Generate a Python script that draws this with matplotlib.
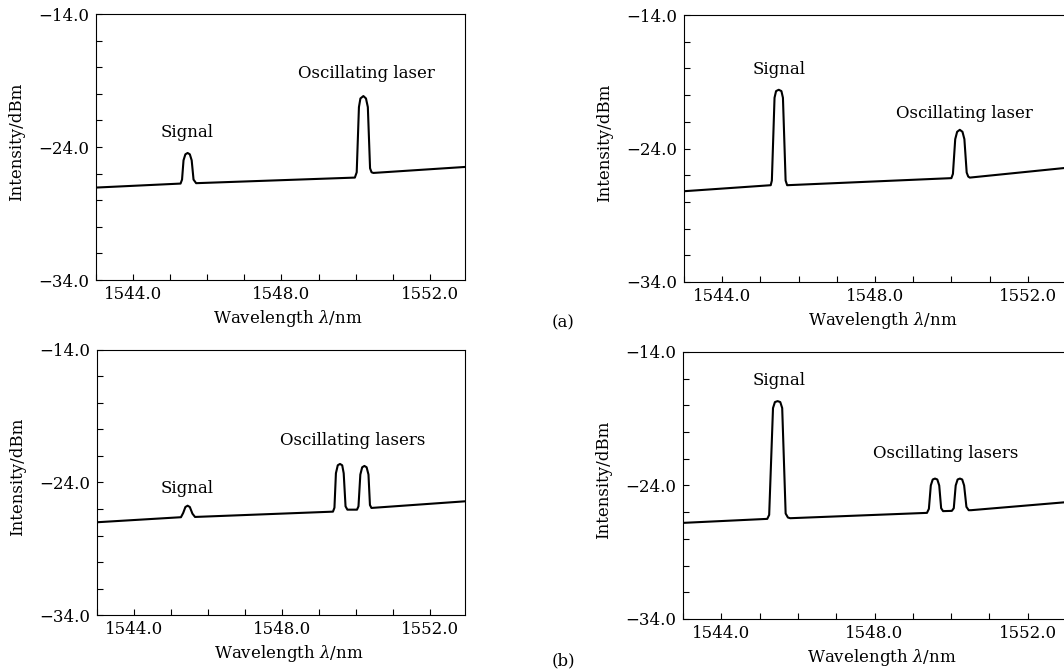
import matplotlib
matplotlib.use("Agg")
import matplotlib.pyplot as plt
from matplotlib.ticker import MultipleLocator, FixedLocator, FuncFormatter

plt.rcParams['font.family'] = 'DejaVu Serif'
plt.rcParams['mathtext.fontset'] = 'dejavuserif'
plt.rcParams['axes.linewidth'] = 0.8

# ---- data (wavelength in nm, intensity in dBm) ----
# (a) left: weak signal, one oscillating laser
a_left_wl = [1543.0, 1545.28, 1545.32, 1545.36, 1545.41, 1545.47, 1545.53, 1545.58,
             1545.63, 1545.70, 1549.98, 1550.03, 1550.09, 1550.13, 1550.21, 1550.28,
             1550.33, 1550.39, 1550.43, 1550.48, 1552.95]
a_left_db = [-27.05, -26.75, -26.45, -25.0, -24.55, -24.45, -24.55, -25.0,
             -26.45, -26.72, -26.3, -25.9, -21.0, -20.35, -20.17, -20.35,
             -21.0, -25.6, -25.9, -25.95, -25.5]

# (a) right: strong signal, one oscillating laser
a_right_wl = [1543.0, 1545.27, 1545.30, 1545.37, 1545.41, 1545.48, 1545.55, 1545.59,
              1545.66, 1545.70, 1550.00, 1550.04, 1550.10, 1550.15, 1550.22, 1550.29,
              1550.34, 1550.40, 1550.44, 1550.48, 1553.0]
a_right_db = [-27.2, -26.75, -26.4, -20.2, -19.7, -19.6, -19.7, -20.2,
              -26.4, -26.75, -26.22, -25.9, -23.3, -22.75, -22.6, -22.75,
              -23.3, -25.8, -26.1, -26.18, -25.45]

# (b) left: weak signal, two oscillating lasers
b_left_wl = [1543.0, 1545.27, 1545.33, 1545.39, 1545.45, 1545.51, 1545.58, 1545.65,
             1549.38, 1549.42, 1549.46, 1549.51, 1549.57, 1549.63, 1549.67, 1549.72,
             1549.77, 1550.03, 1550.07, 1550.12, 1550.17, 1550.23, 1550.29, 1550.34,
             1550.38, 1550.42, 1552.95]
b_left_db = [-27.0, -26.62, -26.3, -25.85, -25.75, -25.85, -26.35, -26.6,
             -26.2, -25.9, -23.3, -22.7, -22.6, -22.7, -23.3, -25.8,
             -26.05, -26.05, -25.8, -23.4, -22.85, -22.75, -22.85, -23.4,
             -25.7, -25.92, -25.42]

# (b) right: strong signal, two oscillating lasers
b_right_wl = [1543.0, 1545.20, 1545.25, 1545.35, 1545.40, 1545.47, 1545.54, 1545.59,
              1545.68, 1545.74, 1545.80, 1549.37, 1549.42, 1549.47, 1549.52, 1549.58,
              1549.64, 1549.69, 1549.74, 1549.79, 1550.02, 1550.07, 1550.12, 1550.17,
              1550.23, 1550.29, 1550.34, 1550.40, 1550.46, 1550.52, 1553.0]
b_right_db = [-26.8, -26.5, -26.2, -18.2, -17.75, -17.68, -17.75, -18.2,
              -26.1, -26.4, -26.45, -26.05, -25.75, -24.0, -23.55, -23.48,
              -23.55, -24.0, -25.7, -25.92, -25.9, -25.7, -24.0, -23.55,
              -23.48, -23.55, -24.0, -25.6, -25.85, -25.85, -25.25]

# annotation text: (label, x, y)
a_left_notes = [("Signal", 1545.46, -22.9), ("Oscillating laser", 1550.28, -18.5)]
a_right_notes = [("Signal", 1545.49, -18.1), ("Oscillating laser", 1550.35, -21.4)]
b_left_notes = [("Signal", 1545.43, -24.45), ("Oscillating lasers", 1549.9, -20.8)]
b_right_notes = [("Signal", 1545.51, -16.1), ("Oscillating lasers", 1549.87, -21.6)]

y_major = [-34, -24, -14]

W, H = 1064, 672
fig = plt.figure(figsize=(W / 100, H / 100), dpi=100)


def px_axes(left, top, right, bottom):
    return fig.add_axes([left / W, 1 - bottom / H, (right - left) / W, (bottom - top) / H])


def minus_fmt(v, pos):
    return f"{v:.1f}".replace("-", "\u2212")


def draw_panel(ax, wl, db, notes, xmax, width_px):
    ax.plot(wl, db, color='black', lw=1.5, solid_joinstyle='round')
    ax.set_xlim(1543.0, xmax)
    ax.set_ylim(-34, -14)
    ax.xaxis.set_major_locator(MultipleLocator(4))
    ax.xaxis.set_minor_locator(MultipleLocator(1))
    ax.yaxis.set_major_locator(FixedLocator(y_major))
    ax.yaxis.set_minor_locator(MultipleLocator(2))
    ax.xaxis.set_major_formatter(FuncFormatter(minus_fmt))
    ax.yaxis.set_major_formatter(FuncFormatter(minus_fmt))
    ax.tick_params(which='both', direction='in', length=4, width=0.8,
                   labelsize=12, top=False, right=False)
    ax.tick_params(axis='x', pad=4)
    ax.tick_params(axis='y', pad=5)
    ax.set_xlabel(r"Wavelength $\lambda$/nm", fontsize=12, va='center')
    ax.set_ylabel("Intensity/dBm", fontsize=12, va='center')
    ax.xaxis.set_label_coords(0.52, -0.145)
    ax.yaxis.set_label_coords(-79 / width_px, 0.52)
    for txt, x, y in notes:
        ax.text(x, y, txt, fontsize=12, ha='center', va='center')


ax1 = px_axes(96, 14, 465, 280)
draw_panel(ax1, a_left_wl, a_left_db, a_left_notes, 1552.95, 369)

ax2 = px_axes(684, 15, 1066, 282)
draw_panel(ax2, a_right_wl, a_right_db, a_right_notes, 1553.0, 382)

ax3 = px_axes(97, 350, 465, 615)
draw_panel(ax3, b_left_wl, b_left_db, b_left_notes, 1552.95, 368)

ax4 = px_axes(683, 352, 1066, 619)
draw_panel(ax4, b_right_wl, b_right_db, b_right_notes, 1553.0, 383)

fig.text(563 / W, 1 - 323 / H, "(a)", fontsize=12, ha='center', va='center')
fig.text(563 / W, 1 - 661 / H, "(b)", fontsize=12, ha='center', va='center')

fig.savefig("out.png", dpi=100)
